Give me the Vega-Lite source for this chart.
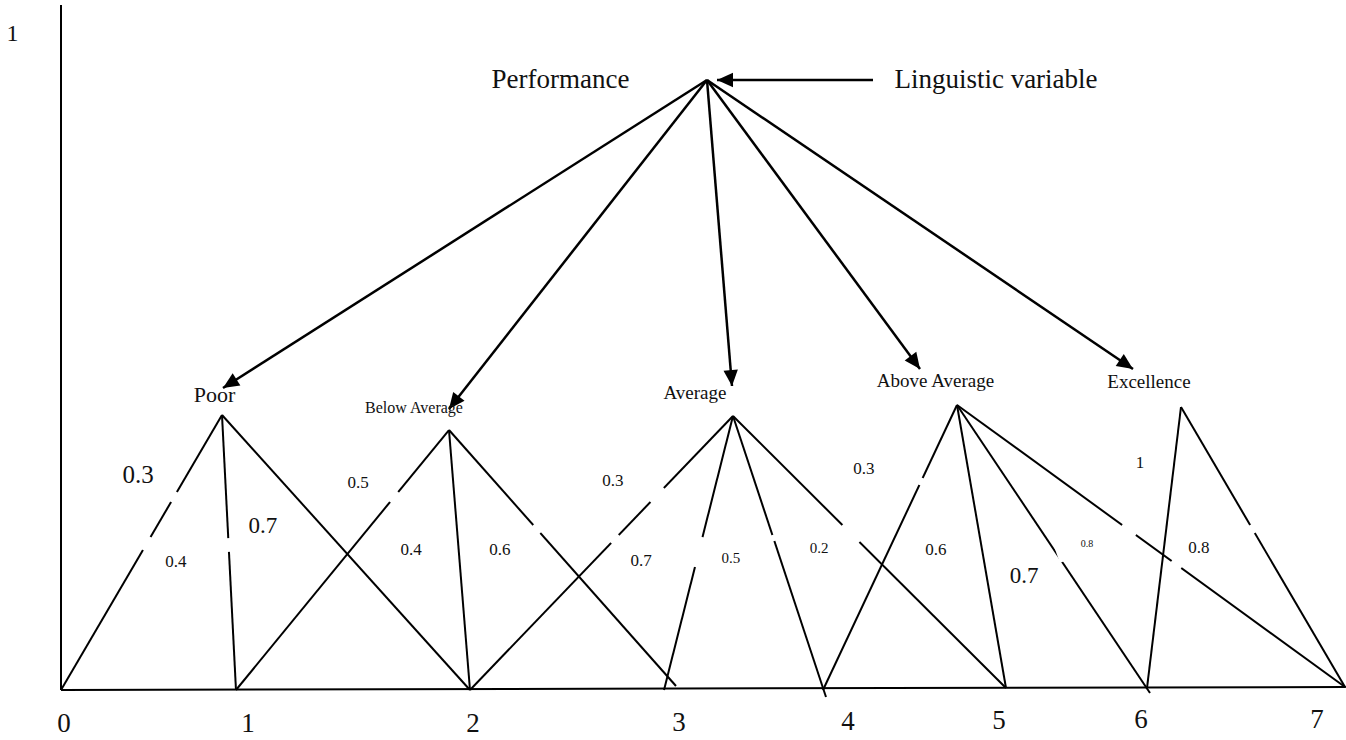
{
  "$schema": "https://vega.github.io/schema/vega-lite/v6.json",
  "width": 1346,
  "height": 740,
  "padding": 0,
  "autosize": {"type": "fit", "contains": "padding"},
  "background": "white",
  "config": {"view": {"stroke": null}, "text": {"font": "Liberation Serif", "color": "#111111", "align": "center", "baseline": "alphabetic"}},
  "datasets": {
    "lines": [
      {"x1": 0, "y1": 0, "x2": 0.8777, "y2": 0.4192},
      {"x1": 0.8777, "y1": 0.4192, "x2": 0.954, "y2": 0},
      {"x1": 0.8777, "y1": 0.4192, "x2": 2.2297, "y2": 0},
      {"x1": 0.954, "y1": 0, "x2": 2.1152, "y2": 0.3963},
      {"x1": 2.1152, "y1": 0.3963, "x2": 2.2297, "y2": 0},
      {"x1": 2.1152, "y1": 0.3963, "x2": 3.3528, "y2": 0.0061},
      {"x1": 2.2297, "y1": 0, "x2": 3.6635, "y2": 0.4177},
      {"x1": 3.2874, "y1": 0, "x2": 3.6635, "y2": 0.4177},
      {"x1": 3.6635, "y1": 0.4177, "x2": 4.1705, "y2": -0.0107},
      {"x1": 3.6635, "y1": 0.4177, "x2": 5.1518, "y2": 0.003},
      {"x1": 4.1542, "y1": 0, "x2": 4.8847, "y2": 0.4345},
      {"x1": 4.8847, "y1": 0.4345, "x2": 5.1518, "y2": 0.003},
      {"x1": 4.8847, "y1": 0.4345, "x2": 5.9369, "y2": -0.0046},
      {"x1": 4.8847, "y1": 0.4345, "x2": 7.0, "y2": 0.0046},
      {"x1": 5.9205, "y1": 0.003, "x2": 6.1059, "y2": 0.4314},
      {"x1": 6.1059, "y1": 0.4314, "x2": 7.0, "y2": 0.0046},
      {"x1": 0, "y1": 0, "x2": 7.005, "y2": 0.0046},
      {"x1": 0, "y1": 0, "x2": 0, "y2": 1.0442}
    ],
    "gaps": [
      {"x1": 0.632, "y1": 0.3018, "x2": 0.6, "y2": 0.2866},
      {"x1": 0.4883, "y1": 0.2332, "x2": 0.4468, "y2": 0.2134},
      {"x1": 0.9118, "y1": 0.2317, "x2": 0.9157, "y2": 0.2104},
      {"x1": 1.8384, "y1": 0.3018, "x2": 1.7937, "y2": 0.2866},
      {"x1": 2.5745, "y1": 0.2515, "x2": 2.6131, "y2": 0.2393},
      {"x1": 3.0408, "y1": 0.2363, "x2": 2.999, "y2": 0.2241},
      {"x1": 3.2868, "y1": 0.3079, "x2": 3.2135, "y2": 0.2866},
      {"x1": 3.4974, "y1": 0.2332, "x2": 3.4562, "y2": 0.1875},
      {"x1": 3.8782, "y1": 0.2363, "x2": 3.8891, "y2": 0.2271},
      {"x1": 4.26, "y1": 0.2515, "x2": 4.3529, "y2": 0.2256},
      {"x1": 4.6976, "y1": 0.3232, "x2": 4.6797, "y2": 0.3125},
      {"x1": 5.4217, "y1": 0.2241, "x2": 5.4583, "y2": 0.1951},
      {"x1": 5.7848, "y1": 0.2515, "x2": 5.8598, "y2": 0.2363},
      {"x1": 6.0549, "y1": 0.1966, "x2": 6.1074, "y2": 0.186},
      {"x1": 6.4827, "y1": 0.2515, "x2": 6.5082, "y2": 0.2393}
    ],
    "arrows": [
      {"x1": 3.5218, "y1": 0.9299, "x2": 0.8832, "y2": 0.4604},
      {"x1": 3.5218, "y1": 0.9299, "x2": 2.1152, "y2": 0.4284},
      {"x1": 3.5218, "y1": 0.9299, "x2": 3.6581, "y2": 0.4634},
      {"x1": 3.5218, "y1": 0.9299, "x2": 4.683, "y2": 0.4893},
      {"x1": 3.5218, "y1": 0.9299, "x2": 5.8442, "y2": 0.4893},
      {"x1": 4.4268, "y1": 0.9299, "x2": 3.5763, "y2": 0.9299}
    ],
    "labels": [
      {"text": "1", "x": -0.2644, "y": 0.9893, "role": "ylab"},
      {"text": "Performance", "x": 2.7231, "y": 0.9177, "role": "title"},
      {"text": "Linguistic variable", "x": 5.0973, "y": 0.9177, "role": "title"},
      {"text": "Poor", "x": 0.8368, "y": 0.4395, "role": "term-lg"},
      {"text": "Below Average", "x": 1.9244, "y": 0.4223, "role": "term-sm"},
      {"text": "Average", "x": 3.4564, "y": 0.4436, "role": "term"},
      {"text": "Above Average", "x": 4.7675, "y": 0.4619, "role": "term"},
      {"text": "Excellence", "x": 5.9314, "y": 0.4604, "role": "term"},
      {"text": "0.3", "x": 0.4198, "y": 0.3155, "role": "num-xl"},
      {"text": "0.4", "x": 0.6269, "y": 0.1875, "role": "num"},
      {"text": "0.7", "x": 1.1012, "y": 0.2393, "role": "num-lg"},
      {"text": "0.5", "x": 1.6192, "y": 0.3079, "role": "num"},
      {"text": "0.4", "x": 1.9081, "y": 0.2058, "role": "num"},
      {"text": "0.6", "x": 2.3933, "y": 0.2058, "role": "num"},
      {"text": "0.3", "x": 3.0093, "y": 0.311, "role": "num"},
      {"text": "0.7", "x": 3.162, "y": 0.189, "role": "num"},
      {"text": "0.5", "x": 3.6526, "y": 0.1936, "role": "num-sm"},
      {"text": "0.2", "x": 4.1324, "y": 0.2088, "role": "num-sm"},
      {"text": "0.3", "x": 4.3777, "y": 0.3293, "role": "num"},
      {"text": "0.6", "x": 4.7702, "y": 0.2058, "role": "num"},
      {"text": "0.7", "x": 5.25, "y": 0.1631, "role": "num-lg"},
      {"text": "0.8", "x": 5.5934, "y": 0.218, "role": "num-xs"},
      {"text": "1", "x": 5.8824, "y": 0.3384, "role": "num"},
      {"text": "0.8", "x": 6.204, "y": 0.2088, "role": "num"},
      {"text": "0", "x": 0.0164, "y": -0.064, "role": "axis"},
      {"text": "1", "x": 1.0195, "y": -0.064, "role": "axis"},
      {"text": "2", "x": 2.2461, "y": -0.064, "role": "axis"},
      {"text": "3", "x": 3.3692, "y": -0.0625, "role": "axis"},
      {"text": "4", "x": 4.2905, "y": -0.061, "role": "axis"},
      {"text": "5", "x": 5.1137, "y": -0.0594, "role": "axis"},
      {"text": "6", "x": 5.8878, "y": -0.0579, "role": "axis"},
      {"text": "7", "x": 6.8473, "y": -0.0579, "role": "axis"}
    ]
  },
  "layer": [
    {
      "data": {"name": "lines"},
      "mark": {"type": "rule", "color": "black", "strokeWidth": 2},
      "encoding": {
        "x": {"field": "x1", "type": "quantitative", "scale": {"domain": [0, 7], "range": [61, 1345], "zero": false, "nice": false}, "axis": null},
        "y": {"field": "y1", "type": "quantitative", "scale": {"domain": [0, 1], "range": [690, 34], "zero": false, "nice": false}, "axis": null},
        "x2": {"field": "x2"},
        "y2": {"field": "y2"}
      }
    },
    {
      "data": {"name": "gaps"},
      "mark": {"type": "rule", "color": "white", "strokeWidth": 5, "strokeCap": "butt"},
      "encoding": {
        "x": {"field": "x1", "type": "quantitative", "axis": null},
        "y": {"field": "y1", "type": "quantitative", "axis": null},
        "x2": {"field": "x2"},
        "y2": {"field": "y2"}
      }
    },
    {
      "data": {"name": "arrows"},
      "mark": {"type": "rule", "color": "black", "strokeWidth": 2.5},
      "encoding": {
        "x": {"field": "x1", "type": "quantitative", "axis": null},
        "y": {"field": "y1", "type": "quantitative", "axis": null},
        "x2": {"field": "x2"},
        "y2": {"field": "y2"}
      }
    },
    {
      "data": {"name": "arrows"},
      "transform": [
        {"calculate": "atan2((datum.x2 - datum.x1) * 183.43, (datum.y2 - datum.y1) * 656) * 180 / PI", "as": "ang"}
      ],
      "mark": {"type": "point", "shape": "M0,0L-0.45,1L0.45,1Z", "filled": true, "color": "black", "opacity": 1, "size": 1024, "strokeWidth": 0},
      "encoding": {
        "x": {"field": "x2", "type": "quantitative", "axis": null},
        "y": {"field": "y2", "type": "quantitative", "axis": null},
        "angle": {"field": "ang", "type": "quantitative", "scale": null}
      }
    },
    {"data": {"name": "labels"}, "transform": [{"filter": {"field": "role", "equal": "ylab"}}], "mark": {"type": "text", "fontSize": 24},
     "encoding": {"x": {"field": "x", "type": "quantitative", "axis": null}, "y": {"field": "y", "type": "quantitative", "axis": null}, "text": {"field": "text"}}},
    {"data": {"name": "labels"}, "transform": [{"filter": {"field": "role", "equal": "title"}}], "mark": {"type": "text", "fontSize": 27},
     "encoding": {"x": {"field": "x", "type": "quantitative", "axis": null}, "y": {"field": "y", "type": "quantitative", "axis": null}, "text": {"field": "text"}}},
    {"data": {"name": "labels"}, "transform": [{"filter": {"field": "role", "equal": "term-lg"}}], "mark": {"type": "text", "fontSize": 22},
     "encoding": {"x": {"field": "x", "type": "quantitative", "axis": null}, "y": {"field": "y", "type": "quantitative", "axis": null}, "text": {"field": "text"}}},
    {"data": {"name": "labels"}, "transform": [{"filter": {"field": "role", "equal": "term"}}], "mark": {"type": "text", "fontSize": 19},
     "encoding": {"x": {"field": "x", "type": "quantitative", "axis": null}, "y": {"field": "y", "type": "quantitative", "axis": null}, "text": {"field": "text"}}},
    {"data": {"name": "labels"}, "transform": [{"filter": {"field": "role", "equal": "term-sm"}}], "mark": {"type": "text", "fontSize": 16},
     "encoding": {"x": {"field": "x", "type": "quantitative", "axis": null}, "y": {"field": "y", "type": "quantitative", "axis": null}, "text": {"field": "text"}}},
    {"data": {"name": "labels"}, "transform": [{"filter": {"field": "role", "equal": "num-xl"}}], "mark": {"type": "text", "fontSize": 25},
     "encoding": {"x": {"field": "x", "type": "quantitative", "axis": null}, "y": {"field": "y", "type": "quantitative", "axis": null}, "text": {"field": "text"}}},
    {"data": {"name": "labels"}, "transform": [{"filter": {"field": "role", "equal": "num-lg"}}], "mark": {"type": "text", "fontSize": 23},
     "encoding": {"x": {"field": "x", "type": "quantitative", "axis": null}, "y": {"field": "y", "type": "quantitative", "axis": null}, "text": {"field": "text"}}},
    {"data": {"name": "labels"}, "transform": [{"filter": {"field": "role", "equal": "num"}}], "mark": {"type": "text", "fontSize": 17},
     "encoding": {"x": {"field": "x", "type": "quantitative", "axis": null}, "y": {"field": "y", "type": "quantitative", "axis": null}, "text": {"field": "text"}}},
    {"data": {"name": "labels"}, "transform": [{"filter": {"field": "role", "equal": "num-sm"}}], "mark": {"type": "text", "fontSize": 15},
     "encoding": {"x": {"field": "x", "type": "quantitative", "axis": null}, "y": {"field": "y", "type": "quantitative", "axis": null}, "text": {"field": "text"}}},
    {"data": {"name": "labels"}, "transform": [{"filter": {"field": "role", "equal": "num-xs"}}], "mark": {"type": "text", "fontSize": 10},
     "encoding": {"x": {"field": "x", "type": "quantitative", "axis": null}, "y": {"field": "y", "type": "quantitative", "axis": null}, "text": {"field": "text"}}},
    {"data": {"name": "labels"}, "transform": [{"filter": {"field": "role", "equal": "axis"}}], "mark": {"type": "text", "fontSize": 27},
     "encoding": {"x": {"field": "x", "type": "quantitative", "axis": null}, "y": {"field": "y", "type": "quantitative", "axis": null}, "text": {"field": "text"}}}
  ]
}
